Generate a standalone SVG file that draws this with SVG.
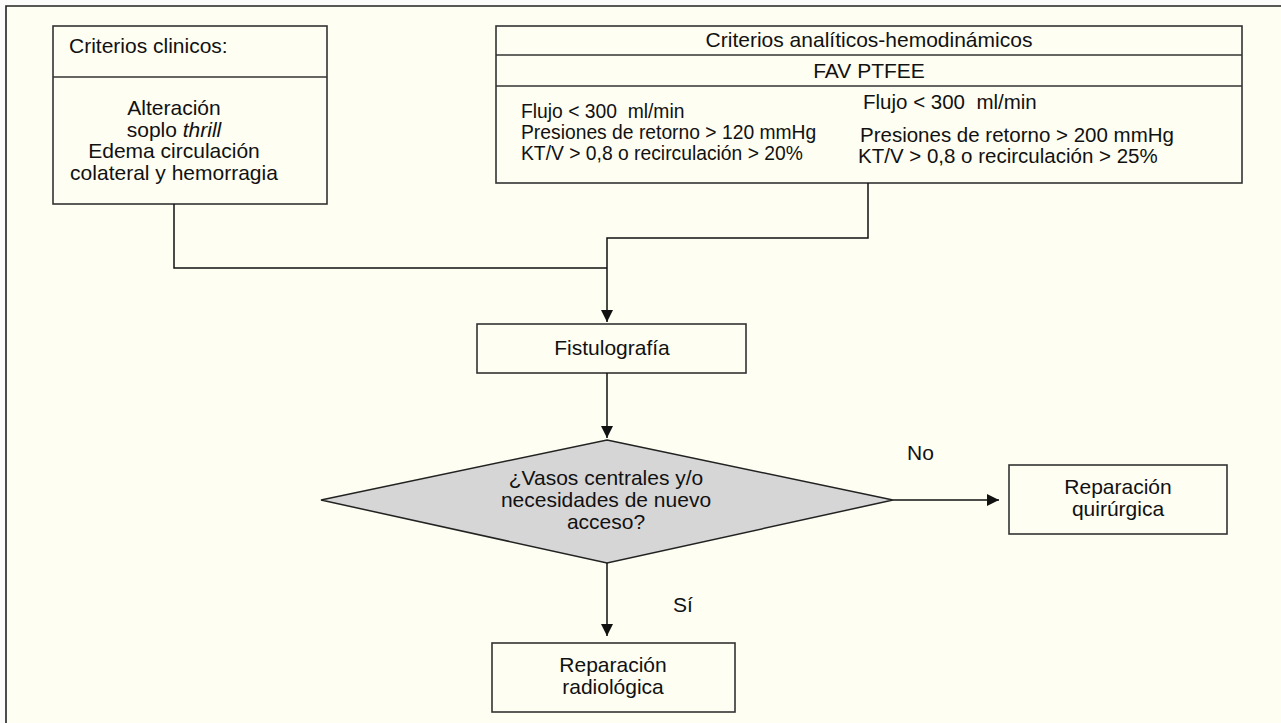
<svg xmlns="http://www.w3.org/2000/svg" width="1281" height="723" viewBox="0 0 1281 723">
<defs>
<style>
text{font-family:"Liberation Sans",Arial,sans-serif;font-size:21px;fill:#111}
.c{text-anchor:middle}
.l{font-size:19.3px}
.r{font-size:20.5px}
.box{fill:none;stroke:#333;stroke-width:1.6}
.ln{fill:none;stroke:#111;stroke-width:1.5}
</style>
<marker id="ah" markerWidth="12" markerHeight="12" viewBox="0 0 12 12" refX="12" refY="6" orient="auto" markerUnits="userSpaceOnUse">
<path d="M0,0 L12,6 L0,12 Z" fill="#111"/>
</marker>
</defs>
<rect x="0" y="0" width="1281" height="723" fill="#fcfcfa"/>
<rect x="6" y="6" width="1280" height="720" fill="#fefef2"/>
<path d="M6,723 V6 H1281" fill="none" stroke="#222" stroke-width="1.6"/>

<g id="clinicos">
<rect class="box" x="53" y="26" width="274" height="178"/>
<line class="box" x1="53" y1="77" x2="327" y2="77"/>
<text x="69" y="53">Criterios clinicos:</text>
<text class="c" x="174" y="115">Alteración</text>
<text class="c" x="174" y="137">soplo <tspan font-style="italic">thrill</tspan></text>
<text class="c" x="174" y="158">Edema circulación</text>
<text class="c" x="174" y="180">colateral y hemorragia</text>
</g>

<g id="analiticos">
<rect class="box" x="496" y="26" width="746" height="157"/>
<line class="box" x1="496" y1="55" x2="1242" y2="55"/>
<line class="box" x1="496" y1="86" x2="1242" y2="86"/>
<text class="c" x="869" y="47">Criterios analíticos-hemodinámicos</text>
<text class="c" x="869" y="78">FAV PTFEE</text>
<text class="l" x="521" y="118" xml:space="preserve">Flujo &lt; 300  ml/min</text>
<text class="l" x="521" y="139">Presiones de retorno &gt; 120 mmHg</text>
<text class="l" x="521" y="160">KT/V &gt; 0,8 o recirculación &gt; 20%</text>
<text class="r" x="863" y="109" xml:space="preserve">Flujo &lt; 300  ml/min</text>
<text class="r" x="860" y="142">Presiones de retorno &gt; 200 mmHg</text>
<text class="r" x="858" y="163">KT/V &gt; 0,8 o recirculación &gt; 25%</text>
</g>

<g id="fistulografia">
<rect class="box" x="477" y="324" width="269" height="49"/>
<text class="c" x="612" y="355">Fistulografía</text>
</g>

<g id="decision">
<polygon points="607,440 893,500 607,563 321,500" fill="#d6d6d6" stroke="#222" stroke-width="1.5"/>
<text class="c" x="606" y="485">¿Vasos centrales y/o</text>
<text class="c" x="606" y="507">necesidades de nuevo</text>
<text class="c" x="606" y="529">acceso?</text>
</g>

<g id="quirurgica">
<rect class="box" x="1009" y="465" width="218" height="69"/>
<text class="c" x="1118" y="494">Reparación</text>
<text class="c" x="1118" y="516">quirúrgica</text>
</g>

<g id="radiologica">
<rect class="box" x="492" y="643" width="243" height="69"/>
<text class="c" x="613" y="672">Reparación</text>
<text class="c" x="613" y="694">radiológica</text>
</g>

<g id="connectors">
<polyline class="ln" points="174,204 174,268 607,268"/>
<polyline class="ln" points="868,183 868,238 607,238 607,322" marker-end="url(#ah)"/>
<line class="ln" x1="607" y1="373" x2="607" y2="438" marker-end="url(#ah)"/>
<line class="ln" x1="893" y1="500" x2="999" y2="500" marker-end="url(#ah)"/>
<line class="ln" x1="607" y1="563" x2="607" y2="636" marker-end="url(#ah)"/>
<text x="907" y="460">No</text>
<text x="673" y="612">Sí</text>
</g>
</svg>
